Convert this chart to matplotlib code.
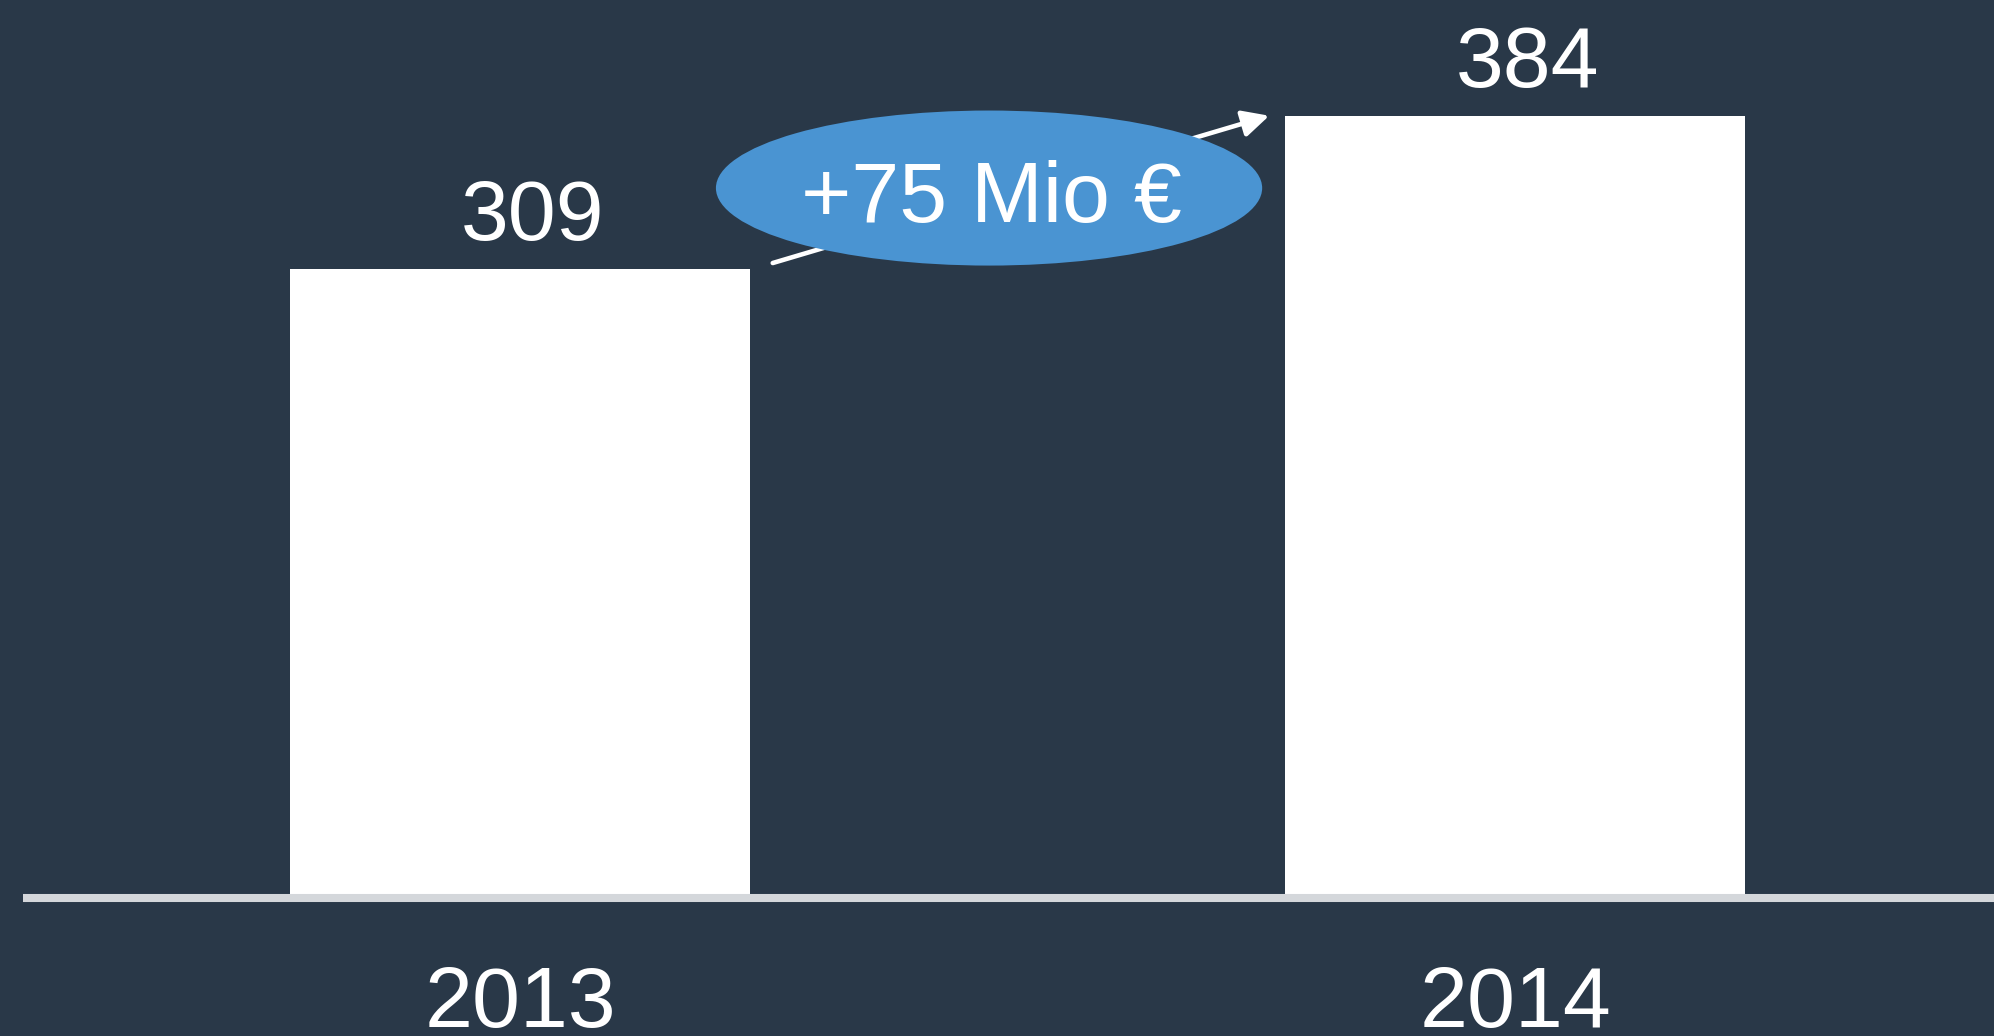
import matplotlib
matplotlib.use('Agg')
import matplotlib.pyplot as plt
from matplotlib.patches import Ellipse

years = ['2013', '2014']
values = [309, 384]
delta_label = '+75 Mio €'

bg = '#293848'
plt.rcParams['font.family'] = ['Liberation Sans', 'DejaVu Sans']

fig = plt.figure(figsize=(19.94, 10.36), dpi=100, facecolor=bg)
ax = fig.add_axes([0, 0, 1, 1])
ax.set_facecolor(bg)
ax.set_xlim(-0.5226, 1.4814)
ax.set_ylim(-67.7, 440.8)
ax.axis('off')

pos = list(range(len(years)))
ax.bar(pos, values, width=0.462, color='white', zorder=2)
ax.axhline(0, xmin=0.0115, xmax=1, color='#d4d7db', lw=5.8, zorder=3,
           solid_capstyle='butt')

for p, v, y in zip(pos, values, years):
    ax.text(p + 0.013, v + 14.2, str(v), ha='center', va='baseline', color='white', fontsize=62)
    ax.text(p, -63.3, y, ha='center', va='baseline', color='white', fontsize=62)

# growth arrow between the bar tops
ax.annotate('', xy=(pos[1] - 0.247, values[1]), xytext=(pos[0] + 0.254, values[0] + 2.7),
            arrowprops=dict(arrowstyle='-|>', color='white', lw=3.3, mutation_scale=40,
                            shrinkA=0, shrinkB=0), zorder=4)

ell = Ellipse((0.4714, 348.5), 0.549, 76.1, facecolor='#4a94d2', edgecolor='none', zorder=5)
ax.add_patch(ell)
ax.text(0.474, 331.6, delta_label, ha='center', va='baseline', color='white', fontsize=62, zorder=6)

fig.savefig('out.png', dpi=100, facecolor=bg)
